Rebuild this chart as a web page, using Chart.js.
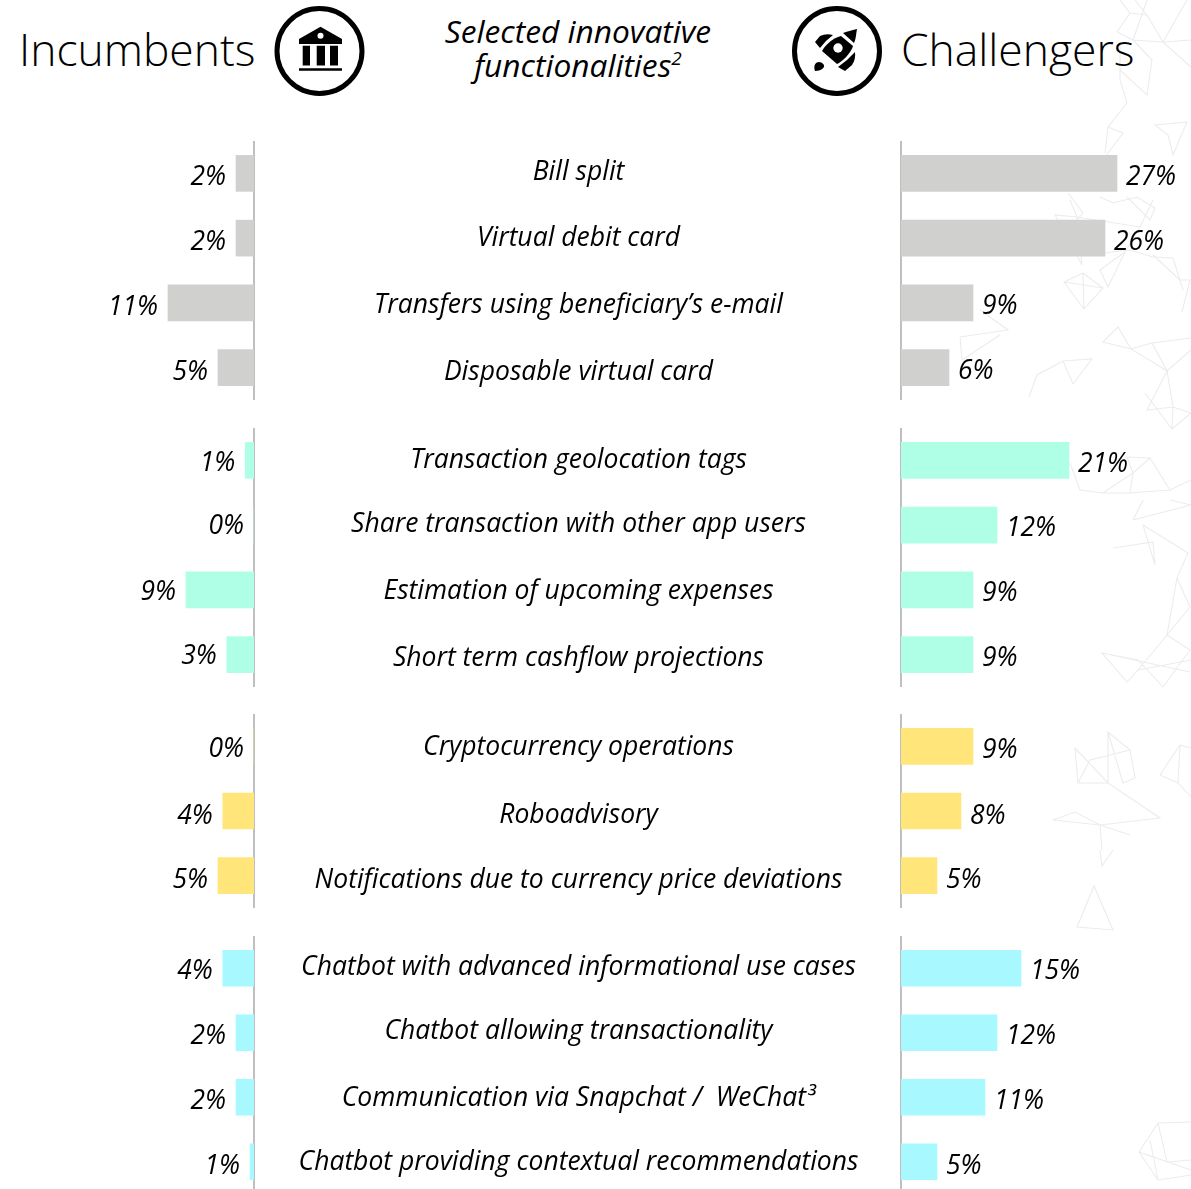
<!DOCTYPE html>
<html>
<head>
<meta charset="utf-8">
<script src="https://cdn.jsdelivr.net/npm/chart.js@4"></script>
<style>
html,body{margin:0;padding:0;background:#fff;overflow:hidden}
#page{position:relative;width:1191px;height:1189px;overflow:hidden;background:#fff;font-family:"Open Sans",sans-serif;color:#000}
#page canvas{position:absolute}
.t{position:absolute;white-space:nowrap}
.h{font-size:44.4px;font-weight:350;line-height:60px;top:19px}
.sub{font-style:italic;font-size:31.7px;line-height:34px;left:378px;width:400px;text-align:center;top:14px}
.sub sup{font-size:19px;line-height:0;vertical-align:baseline;position:relative;top:-12px}
svg{position:absolute;left:0;top:0}
</style>
</head>
<body>
<div id="page">
<svg id="bg" width="1191" height="1189" fill="none" stroke="#ececec" stroke-width="1.1">
<path d="M1083 273L1064 282L1084 309L1103 288ZM1064 282L1103 288M1083 273L1084 309"/>
<path d="M960 337L1008 330L980 310M960 337L962 360L1000 335"/>
<path d="M1029 397L1037 375L1063 361L1092 359L1073 384L1063 361"/>
<path d="M1103 342L1118 327L1131 349ZM1131 349L1152 343L1167 371ZM1152 343L1191 338M1167 371L1147 410L1173 407L1172 429L1145 393M1173 407L1167 371M1173 407L1191 413L1172 429M1167 371L1191 350"/>
<path d="M1117 32L1133 40L1163 42L1191 40M1133 40L1147 0M1117 32L1130 13L1120 0M1130 13L1147 15L1163 42M1147 15L1135 0M1163 42L1187 0M1163 42L1191 67M1120 42L1120 80L1127 103L1108 127L1105 153M1120 70L1147 95L1152 60L1133 40M1108 127L1123 133L1105 157"/>
<path d="M1155 125L1187 122L1173 155L1168 135Z"/>
<path d="M1068 193L1083 213L1077 220M1100 197L1113 203L1137 197L1155 208L1150 220L1127 197M1103 253L1130 250L1153 257L1173 258L1183 290"/>
<path d="M1100 270L1108 287L1125 252ZM1070 200L1077 217L1082 265L1055 215L1077 217L1140 227L1153 200M1125 252L1140 227M1153 255L1180 280M1180 280L1190 280L1182 312"/>
<path d="M1070 463L1080 490L1103 493L1133 473L1150 458L1127 457L1133 473M1133 473L1130 493L1103 493M1150 458L1170 490L1191 480M1170 490L1130 493"/>
<path d="M1133 520L1143 500M1133 520L1191 505L1170 500"/>
<path d="M1113 548L1153 542L1155 565L1143 525L1188 553L1177 578L1190 607L1167 635L1177 578M1167 635L1138 670L1127 682L1102 653L1138 660L1163 687L1190 650L1167 635M1102 653L1190 672M1138 670L1191 660"/>
<path d="M1075 748L1078 783L1108 783L1160 818L1100 825L1053 820L1075 812L1100 825L1102 850M1075 748L1108 783L1108 732L1130 750L1090 760L1078 783M1108 732L1123 783L1135 778L1130 750M1130 835L1100 825"/>
<path d="M1160 775L1180 745L1191 748M1160 775L1178 783L1191 797M1180 745L1178 783"/>
<path d="M1100 850L1102 866L1113 850M1094 886L1077 927L1113 930Z"/>
<path d="M1139 1152L1158 1123L1191 1122M1139 1152L1158 1180L1191 1175M1158 1123L1167 1162L1191 1160M1150 1140L1158 1180M1139 1152L1191 1170"/>
</svg>

<div class="t h" style="left:19px">Incumbents</div>
<div class="t h" style="left:901px">Challengers</div>
<div class="t sub">Selected innovative<br>functionalities<sup>2</sup></div>

<svg width="1191" height="110">
<circle cx="319.5" cy="51" r="42.5" fill="none" stroke="#000" stroke-width="5"/>
<circle cx="837" cy="51" r="42.5" fill="none" stroke="#000" stroke-width="5"/>
<path fill="#000" d="M320.500 26.700L342 39V44H299V39ZM302.700 45.700H310V65.500H302.700ZM316.700 45.700H325V65.500H316.700ZM330 45.700H338V65.500H330ZM299 68.300H342V70.700H299Z"/>
<circle cx="320.500" cy="35.700" r="3" fill="#fff"/>
<path fill="#000" d="M841 36L853 46C851 53 842 62 837 64L822 51C825 45 833 38 841 36Z"/>
<path fill="#000" d="M843 33C848 31 853 30 857 29C856 34 856 39 854 43Z"/>
<circle cx="838" cy="48" r="4.700" fill="#fff"/>
<path fill="#000" d="M815 42L820 36Q826 33 833 35Q826 40 820 48ZM838 67Q848 60 855 52Q856 59 852 65L845 71ZM815 71C813 65 816 62 819 62C822 62 825 65 824 67C822 70 818 71 815 71Z"/>
</svg>
</div>

<script>
// Categories by group
const groupOneLabels = ["Bill split", "Virtual debit card", "Transfers using beneficiary’s e-mail", "Disposable virtual card"];
const groupTwoLabels = ["Transaction geolocation tags", "Share transaction with other app users", "Estimation of upcoming expenses", "Short term cashflow projections"];
const groupThreeLabels = ["Cryptocurrency operations", "Roboadvisory", "Notifications due to currency price deviations"];
const groupFourLabels = ["Chatbot with advanced informational use cases", "Chatbot allowing transactionality", "Communication via Snapchat /  WeChat³", "Chatbot providing contextual recommendations"];

// Series values, % of players (labels show these rounded)
const incumbentsOne = [2.25, 2.25, 10.75, 4.5];
const incumbentsTwo = [1.1, 0, 8.5, 3.4];
const incumbentsThree = [0, 3.9, 4.5];
const incumbentsFour = [3.9, 2.25, 2.25, 0.5];
const challengersOne = [27, 25.5, 9, 6];
const challengersTwo = [21, 12, 9, 9];
const challengersThree = [9, 7.5, 4.5];
const challengersFour = [15, 12, 10.5, 4.5];

// Styling and layout, kept apart from the data
const groupColors = ["#d0d0ce", "#aeffe6", "#ffe57a", "#a8f9ff"];
const groupTops = [141, 428, 714, 936];
const groupHeights = [259, 259, 194, 258];
const catNudge = [[-1, 0, 3, 5], [0, -1, 2, 4], [1, 4, 5], [-1, -1, 1, 1]];
const leftNudge = [[4, 4, 5, 5], [3, 1, 3, 2], [3, 5, 5], [3, 4, 4, 5]];
const rightNudge = [[4, 4, 4, 4], [4, 3, 4, 4], [4, 5, 5], [3, 4, 4, 5]];
const FONT_VALUE = 'italic 26.4px "Open Sans"';
const FONT_CAT = 'italic 26.5px "Open Sans"';
const PX_PER_PCT = 8;
const AXIS = "#bfbfbf";

const valueLabels = {
  id: "valueLabels",
  afterDatasetsDraw(chart, _, o) {
    const ctx = chart.ctx, meta = chart.getDatasetMeta(0);
    ctx.save();
    ctx.font = FONT_VALUE;
    ctx.fillStyle = "#000";
    ctx.textBaseline = "middle";
    ctx.textAlign = o.left ? "right" : "left";
    meta.data.forEach((bar, i) => {
      const v = chart.data.datasets[0].data[i];
      const ny = (o.left ? leftNudge : rightNudge)[o.g][i];
      ctx.fillText(Math.round(v) + "%", bar.x + (o.left ? -10 : 9), bar.y + ny);
    });
    ctx.restore();
  }
};

function makeChart(side, g, labels, values) {
  const left = side === "left";
  const cv = document.createElement("canvas");
  const w = left ? 255 : 291;
  const h = groupHeights[g];
  cv.width = w; cv.height = h;
  cv.style.cssText = `left:${left ? 0 : 900}px;top:${groupTops[g]}px;width:${w}px;height:${h}px`;
  document.getElementById("page").appendChild(cv);
  new Chart(cv, {
    type: "bar",
    data: { labels, datasets: [{ data: values, backgroundColor: groupColors[g], barThickness: 36, borderWidth: 0 }] },
    options: {
      indexAxis: "y",
      responsive: false,
      animation: false,
      layout: { padding: left ? { right: 1 } : { left: 1 } },
      plugins: { legend: { display: false }, tooltip: { enabled: false }, title: { display: false }, valueLabels: { left, g } },
      scales: {
        x: { type: "linear", display: false, reverse: left, min: 0, max: (w - 1) / PX_PER_PCT },
        y: {
          type: "category", position: left ? "right" : "left",
          grid: { display: false, drawTicks: false },
          border: { display: true, color: AXIS, width: 2 },
          ticks: { display: false }
        }
      }
    },
    plugins: [valueLabels]
  });
}

// Centre labels are drawn by a chart spanning the gap, from the same category arrays
function makeCentre(g, labels) {
  const cv = document.createElement("canvas");
  const w = 640, h = groupHeights[g];
  cv.width = w; cv.height = h;
  cv.style.cssText = `left:258px;top:${groupTops[g]}px;width:${w}px;height:${h}px`;
  document.getElementById("page").appendChild(cv);
  new Chart(cv, {
    type: "bar",
    data: { labels, datasets: [{ data: labels.map(() => 0), backgroundColor: "transparent" }] },
    options: {
      indexAxis: "y", responsive: false, animation: false,
      plugins: { legend: { display: false }, tooltip: { enabled: false } },
      scales: { x: { display: false, min: 0, max: 1 }, y: { display: false } }
    },
    plugins: [{
      id: "centreLabels",
      afterDatasetsDraw(chart) {
        const ctx = chart.ctx, sy = chart.scales.y;
        ctx.save();
        ctx.font = FONT_CAT;
        ctx.fillStyle = "#000";
        ctx.textAlign = "center";
        ctx.textBaseline = "middle";
        labels.forEach((t, i) => ctx.fillText(t, 320.5, sy.getPixelForValue(i) + catNudge[g][i]));
        ctx.restore();
      }
    }]
  });
}

const allLabels = [groupOneLabels, groupTwoLabels, groupThreeLabels, groupFourLabels];
const allInc = [incumbentsOne, incumbentsTwo, incumbentsThree, incumbentsFour];
const allCha = [challengersOne, challengersTwo, challengersThree, challengersFour];

function build() {
  allLabels.forEach((labels, g) => {
    makeChart("left", g, labels, allInc[g]);
    makeCentre(g, labels);
    makeChart("right", g, labels, allCha[g]);
  });
}
if (document.fonts && document.fonts.load) {
  Promise.all([document.fonts.load(FONT_VALUE), document.fonts.ready]).then(build, build);
} else { build(); }
</script>
</body>
</html>
